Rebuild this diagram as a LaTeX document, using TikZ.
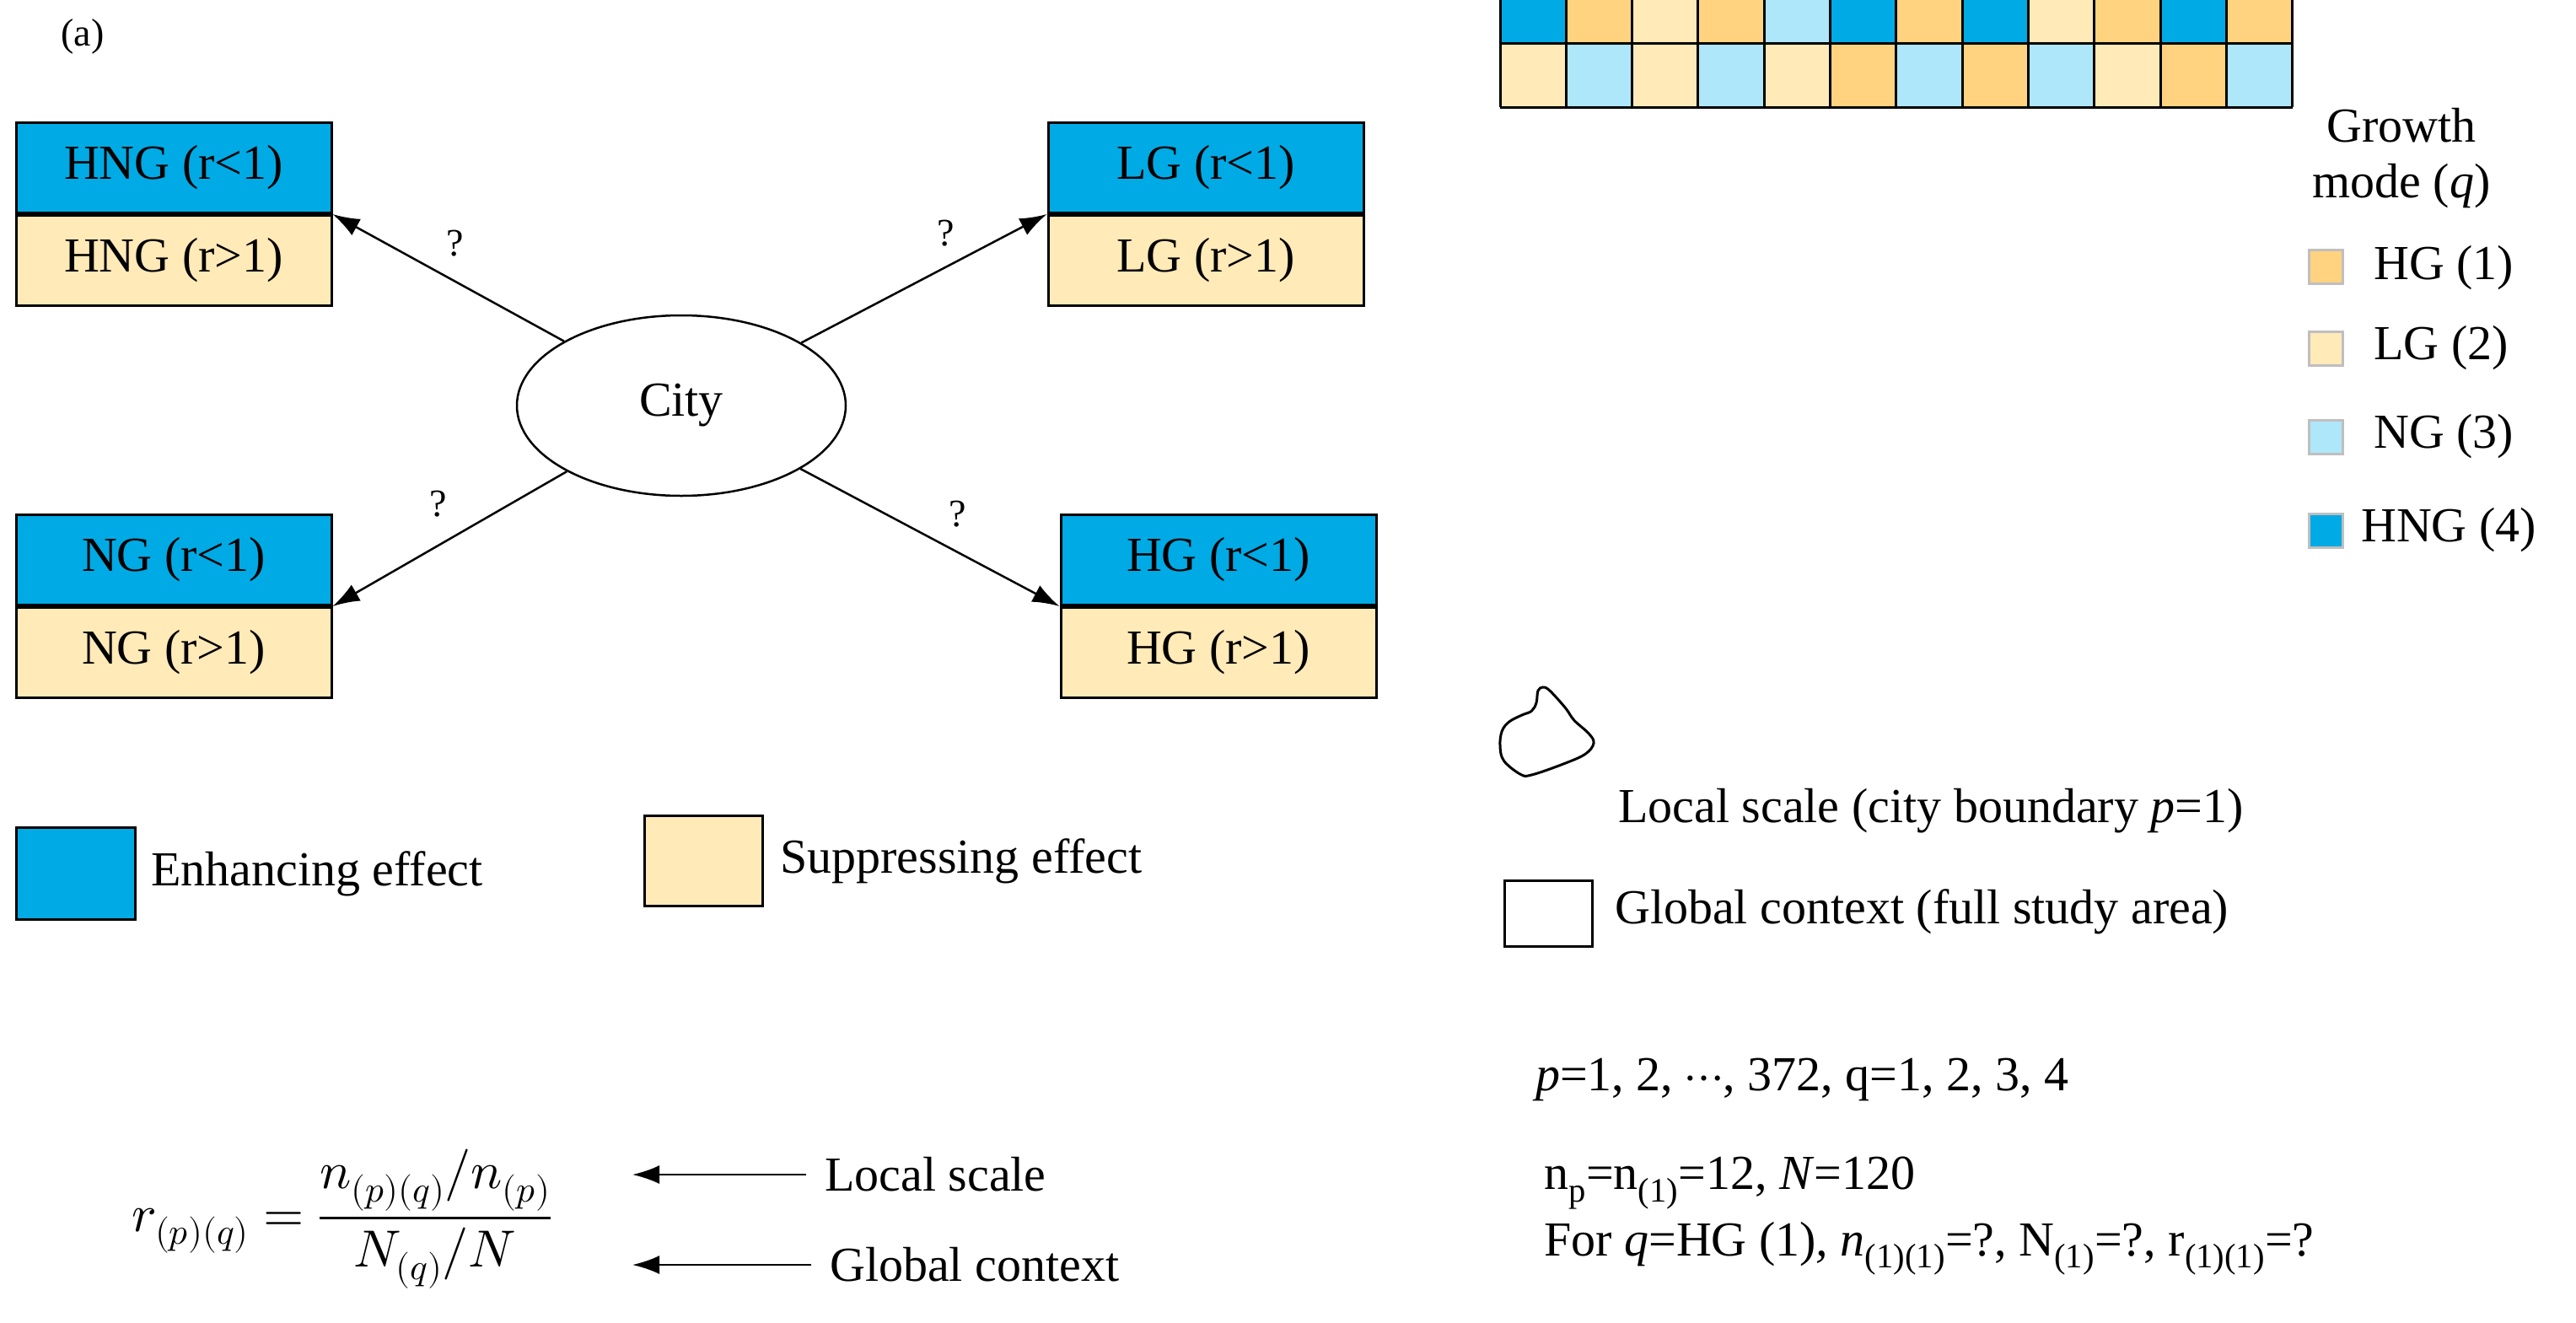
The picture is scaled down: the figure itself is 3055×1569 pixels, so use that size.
\documentclass[tikz,border=0pt]{standalone}
\usepackage{amsmath}
\usepackage{fontspec}
\usepackage{unicode-math}
\setmainfont{Liberation Serif}
\setmathfont{Latin Modern Math}
\usetikzlibrary{arrows.meta,shapes.geometric}
\definecolor{cH}{HTML}{FFD37F}
\definecolor{cL}{HTML}{FFEAB8}
\definecolor{cN}{HTML}{AEE6FA}
\definecolor{cX}{HTML}{00AAE4}
\definecolor{cW}{HTML}{FFFFFF}
\begin{document}
\begin{tikzpicture}[x=1pt,y=-1pt,
  txt/.style={font=\fontsize{58}{66}\selectfont, inner sep=0pt},
  sml/.style={font=\fontsize{46}{54}\selectfont, inner sep=0pt},
  box/.style={draw, line width=3pt, minimum width=374pt, minimum height=107pt, inner sep=0pt, font=\fontsize{58}{66}\selectfont},
  arr/.style={-{Latex[length=32pt,width=22pt]}, line width=2.5pt}]
\useasboundingbox (0,0) rectangle (3055,1569);
% ---------- panel (a)
\node[sml] (la) at (98,43) {(a)};
\node[box, fill=cX] (hng1) at (206,199) {HNG (r<1)};
\node[box, fill=cL, anchor=north] (hng2) at (hng1.south) {HNG (r>1)};
\node[box, fill=cX] (lg1) at (1430,199) {LG (r<1)};
\node[box, fill=cL, anchor=north] (lg2) at (lg1.south) {LG (r>1)};
\node[box, fill=cX] (ng1) at (206,664) {NG (r<1)};
\node[box, fill=cL, anchor=north] (ng2) at (ng1.south) {NG (r>1)};
\node[box, fill=cX] (hg1) at (1445,664) {HG (r<1)};
\node[box, fill=cL, anchor=north] (hg2) at (hg1.south) {HG (r>1)};
\node[draw, line width=2.5pt, ellipse, minimum width=390pt, minimum height=214pt, font=\fontsize{58}{66}\selectfont] (city) at (808,481) {City};
\draw[arr] (city) -- (hng1.south east);
\draw[arr] (city) -- (lg1.south west);
\draw[arr] (city) -- (ng1.south east);
\draw[arr] (city) -- (hg1.south west);
\node[sml] (q1) at (540,289) {?};
\node[sml] (q2) at (1122,277) {?};
\node[sml] (q3) at (520,598) {?};
\node[sml] (q4) at (1136,610) {?};
% legend (a)
\node[draw, line width=3pt, fill=cX, minimum width=141pt, minimum height=109pt, inner sep=0pt] (enh) at (90,1036) {};
\node[txt, anchor=west] (enht) at (179,1036) {Enhancing effect};
\node[draw, line width=3pt, fill=cL, minimum width=140pt, minimum height=107pt, inner sep=0pt] (sup) at (834,1021) {};
\node[txt, anchor=west] (supt) at (925,1021) {Suppressing effect};
% formula
\node[font=\fontsize{62}{70}\selectfont, inner sep=0pt] (form) at (405,1446) {$r_{(p)(q)}=\dfrac{n_{(p)(q)}/n_{(p)}}{N_{(q)}/N}$};
\node[txt, anchor=west] (loc) at (978,1393) {Local scale};
\node[txt, anchor=west] (glo) at (984,1500) {Global context};
\coordinate (la1) at (750,1393);
\coordinate (la2) at (750,1500);
\draw[arr] (loc.west) ++(-22,0) -- (la1);
\draw[arr] (glo.west) ++(-22,0) -- (la2);
% ---------- panel (b)
\node[sml] (lb) at (1818,43) {(b)};
\begin{scope}[shift={(1779,127)}, x=78.3pt, y=75.5pt]
\foreach \row [count=\r] in {
 {L,N,L,N,L,H,N,H,N,L,H,N},
 {X,H,L,H,N,X,H,X,L,H,X,H},
 {L,N,L,X,H,L,H,L,H,X,H,N},
 {H,H,N,H,H,X,H,N,H,H,L,L},
 {N,L,X,H,N,H,L,H,L,X,H,N},
 {L,L,N,N,H,L,N,X,N,L,N,L},
 {N,H,X,H,N,X,H,N,W,X,L,N},
 {L,L,N,N,L,L,X,L,N,L,N,L},
 {L,X,L,X,N,H,X,H,L,X,H,X},
 {N,H,L,N,H,L,N,H,N,L,N,L}}{
  \foreach \c [count=\k] in \row {
    \fill[c\c] (\k-1,\r-1) rectangle (\k,\r);
  }
}
\foreach \i in {0,...,12} \draw[line width=3pt] (\i,0) -- (\i,10);
\foreach \j in {0,...,10} \draw[line width=3pt] (0,\j) -- (12,\j);
\draw[line width=3pt] plot[smooth cycle, tension=0.6] coordinates {
 (5.43,2.83) (6.76,3.36) (7.70,3.85) (8.05,4.38) (7.85,4.84) (7.23,5.49)
 (6.91,6.02) (6.52,6.55) (6.13,7.01) (5.90,7.11) (5.70,6.94) (5.63,6.35)
 (5.43,5.95) (5.04,5.76) (4.49,5.43) (4.18,4.97) (4.10,4.24) (4.26,3.52) (4.96,2.86)};
\end{scope}
% legend (b)
\node[txt, align=center] (gm) at (2848,188) {Growth\\mode (\textit{q})};
\tikzset{lsq/.style={draw=black!25, line width=3pt, minimum width=40pt, minimum height=40pt, inner sep=0pt}}
\node[lsq, fill=cH] (s1) at (2758,316) {};
\node[lsq, fill=cL] (s2) at (2758,413) {};
\node[lsq, fill=cN] (s3) at (2758,518) {};
\node[lsq, fill=cX] (s4) at (2758,629) {};
\node[txt, anchor=west] (t1) at (2815,318) {HG (1)};
\node[txt, anchor=west] (t2) at (2815,413) {LG (2)};
\node[txt, anchor=west] (t3) at (2815,518) {NG (3)};
\node[txt, anchor=west] (t4) at (2800,629) {HNG (4)};
\begin{scope}[shift={(1779,919)}, x=28.1pt, y=24.3pt]
\draw[line width=3pt] plot[smooth cycle, tension=0.6] coordinates {
 (1.33,0) (2.66,0.53) (3.60,1.02) (3.95,1.55) (3.75,2.01) (3.13,2.66)
 (2.81,3.19) (2.42,3.72) (2.03,4.18) (1.80,4.28) (1.60,4.11) (1.53,3.52)
 (1.33,3.12) (0.94,2.93) (0.39,2.60) (0.08,2.14) (0,1.41) (0.16,0.69) (0.86,0.03)};
\end{scope}
\node[txt, anchor=west] (lbl) at (1919,962) {Local scale (city boundary \textit{p}=1)};
\node[draw, line width=3pt, minimum width=104pt, minimum height=78pt, inner sep=0pt] (gsq) at (1836,1083) {};
\node[txt, anchor=west] (gbl) at (1915,1081) {Global context (full study area)};
\node[txt, anchor=west] (pq) at (1821,1280) {\textit{p}=1, 2, $\cdots$, 372, q=1, 2, 3, 4};
\node[txt, anchor=west] (np) at (1831,1403) {n\textsubscript{p}=n\textsubscript{(1)}=12, \textit{N}=120};
\node[txt, anchor=west] (fq) at (1831,1481) {For \textit{q}=HG (1)\textit{, n}\textsubscript{(1)(1)}=?, N\textsubscript{(1)}=?, r\textsubscript{(1)(1)}=?};
\end{tikzpicture}
\end{document}
